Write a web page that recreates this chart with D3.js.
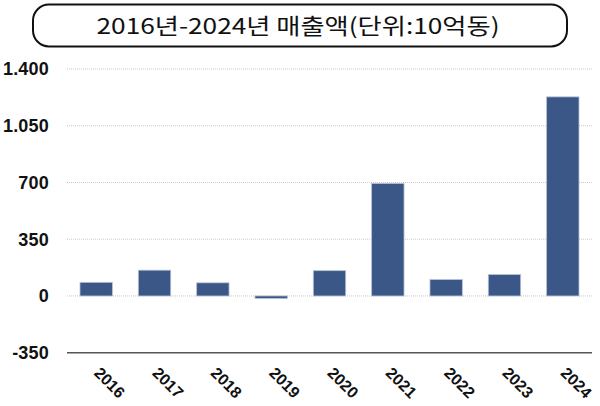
<!DOCTYPE html>
<html>
<head>
<meta charset="utf-8">
<script src="https://cdn.jsdelivr.net/npm/d3@7"></script>
<style>
  body { margin: 0; background: #fff; }
  svg { display: block; }
</style>
</head>
<body>
<script>
// data (unit: 10억동)
var years = ["2016", "2017", "2018", "2019", "2020", "2021", "2022", "2023", "2024"];
var revenue = [84, 159, 81, -15, 156, 694, 101, 132, 1228];
var yTicks = [-350, 0, 350, 700, 1050, 1400];
var yTickLabels = ["-350", "0", "350", "700", "1.050", "1.400"];
var title = "2016년-2024년  매출액(단위:10억동)";

var width = 600, height = 406;

var svg = d3.select("body").append("svg")
    .attr("width", width)
    .attr("height", height);

// title box
svg.append("rect")
    .attr("x", 33).attr("y", 4.5)
    .attr("width", 534).attr("height", 42)
    .attr("rx", 16).attr("ry", 16)
    .style("fill", "#fff")
    .style("stroke", "#111")
    .style("stroke-width", 2);

svg.append("text")
    .attr("x", 298).attr("y", 34)
    .attr("text-anchor", "middle")
    .attr("textLength", 403)
    .attr("lengthAdjust", "spacingAndGlyphs")
    .style("font-family", "'Noto Sans CJK KR', sans-serif")
    .style("font-size", "22px")
    .style("fill", "#111")
    .text(title);

var x = d3.scaleBand()
    .domain(years)
    .range([67, 592])
    .paddingInner(0.445)
    .paddingOuter(0.223);

var y = d3.scaleLinear()
    .domain([-350, 1400])
    .range([352.7, 69]);

// grid lines (dotted), bottom one solid
var grid = svg.append("g");
grid.selectAll("line")
    .data(yTicks.filter(function(d) { return d > -350; }))
    .enter().append("line")
    .attr("x1", 67).attr("x2", 592)
    .attr("y1", function(d) { return y(d); })
    .attr("y2", function(d) { return y(d); })
    .style("stroke", "#c8c8c8")
    .style("stroke-width", 1)
    .style("stroke-dasharray", "1,1");

svg.append("line")
    .attr("x1", 67).attr("x2", 592)
    .attr("y1", y(-350)).attr("y2", y(-350))
    .style("stroke", "#555")
    .style("stroke-width", 1.5);

// y labels
svg.append("g").selectAll("text")
    .data(yTicks)
    .enter().append("text")
    .attr("x", 49)
    .attr("y", function(d) { return y(d); })
    .attr("dy", "0.36em")
    .attr("text-anchor", "end")
    .style("font-family", "'Liberation Sans', Arial, sans-serif")
    .style("font-weight", "bold")
    .style("font-size", "18px")
    .style("letter-spacing", "0.2px")
    .style("fill", "#111")
    .text(function(d, i) { return yTickLabels[i]; });

// bars
svg.append("g").selectAll("rect")
    .data(revenue)
    .enter().append("rect")
    .attr("x", function(d, i) { return x(years[i]); })
    .attr("width", x.bandwidth())
    .attr("y", function(d) { return y(Math.max(0, d)); })
    .attr("height", function(d) { return Math.abs(y(d) - y(0)); })
    .style("fill", "#3a5788")
    .style("stroke", "#b4c0d4")
    .style("stroke-width", 0.8);

// x labels, rotated
svg.append("g").selectAll("text")
    .data(years)
    .enter().append("text")
    .attr("transform", function(d) {
      return "translate(" + (x(d) + x.bandwidth() / 2 - 3) + ",374) rotate(45)";
    })
    .style("font-family", "'Liberation Sans', Arial, sans-serif")
    .style("font-weight", "bold")
    .style("font-size", "16px")
    .style("fill", "#111")
    .text(function(d) { return d; });
</script>
</body>
</html>
